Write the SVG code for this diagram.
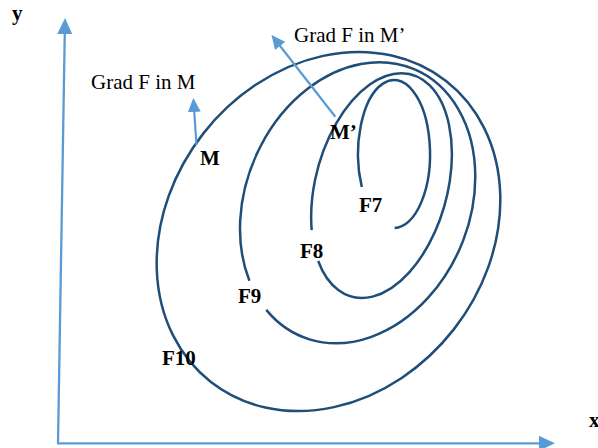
<svg xmlns="http://www.w3.org/2000/svg" width="598" height="448" viewBox="0 0 598 448">
<style>
.contour{fill:none;stroke:#1F4E79;stroke-width:2.5}
.axis{fill:none;stroke:#5B9BD5;stroke-width:2.3}
.grad{fill:none;stroke:#5B9BD5;stroke-width:2.2}
.lbl{font-family:"Liberation Serif","Times New Roman",serif;font-size:21px;fill:#000}
.b{font-weight:bold}
</style>
<defs>
<marker id="ahAxis" viewBox="0 0 16 15" refX="1" refY="7.5" markerWidth="16" markerHeight="15" markerUnits="userSpaceOnUse" orient="auto">
<path d="M0,0 L16,7.5 L0,15 z" fill="#5B9BD5"/>
</marker>
<marker id="ahGrad" viewBox="0 0 14 13" refX="1" refY="6.5" markerWidth="14" markerHeight="13" markerUnits="userSpaceOnUse" orient="auto">
<path d="M0,0 L14,6.5 L0,13 z" fill="#5B9BD5"/>
</marker>
</defs>
<rect width="598" height="448" fill="#fff"/>
<g id="axes">
<line class="axis" x1="58" y1="443.3" x2="64.77" y2="33" marker-end="url(#ahAxis)"/>
<line class="axis" x1="57" y1="443.3" x2="540" y2="443.3" marker-end="url(#ahAxis)"/>
<text class="lbl b" x="12" y="20">y</text>
<text class="lbl b" x="589" y="427">x</text>
</g>
<g id="F10">
<ellipse class="contour" cx="328.5" cy="231.5" rx="191" ry="159" transform="rotate(-52 328.5 231.5)"/>
<text class="lbl b" x="162" y="365">F10</text>
</g>
<g id="F9">
<path class="contour" d="M249.4 280.7 A145 112 -67 1 1 266.3 309.9"/>
<text class="lbl b" x="238" y="303">F9</text>
</g>
<g id="F8">
<path class="contour" d="M311.7 230.2 A115 66 -75 1 1 318.2 261"/>
<text class="lbl b" x="300" y="258">F8</text>
</g>
<g id="F7">
<path class="contour" d="M361.8 187 A36 74 0 1 1 394.6 228"/>
<text class="lbl b" x="359" y="212">F7</text>
</g>
<g id="M">
<text class="lbl b" x="200" y="165">M</text>
</g>
<g id="Mprime">
<text class="lbl b" x="330" y="139">M’</text>
</g>
<g id="connectors">
<line class="grad" x1="196.5" y1="145" x2="194.2" y2="111" marker-end="url(#ahGrad)"/>
<line class="grad" x1="335.3" y1="116.7" x2="279.5" y2="45.2" marker-end="url(#ahGrad)"/>
<text class="lbl" x="91" y="89">Grad F in M</text>
<text class="lbl" x="294" y="42">Grad F in M’</text>
</g>
</svg>
